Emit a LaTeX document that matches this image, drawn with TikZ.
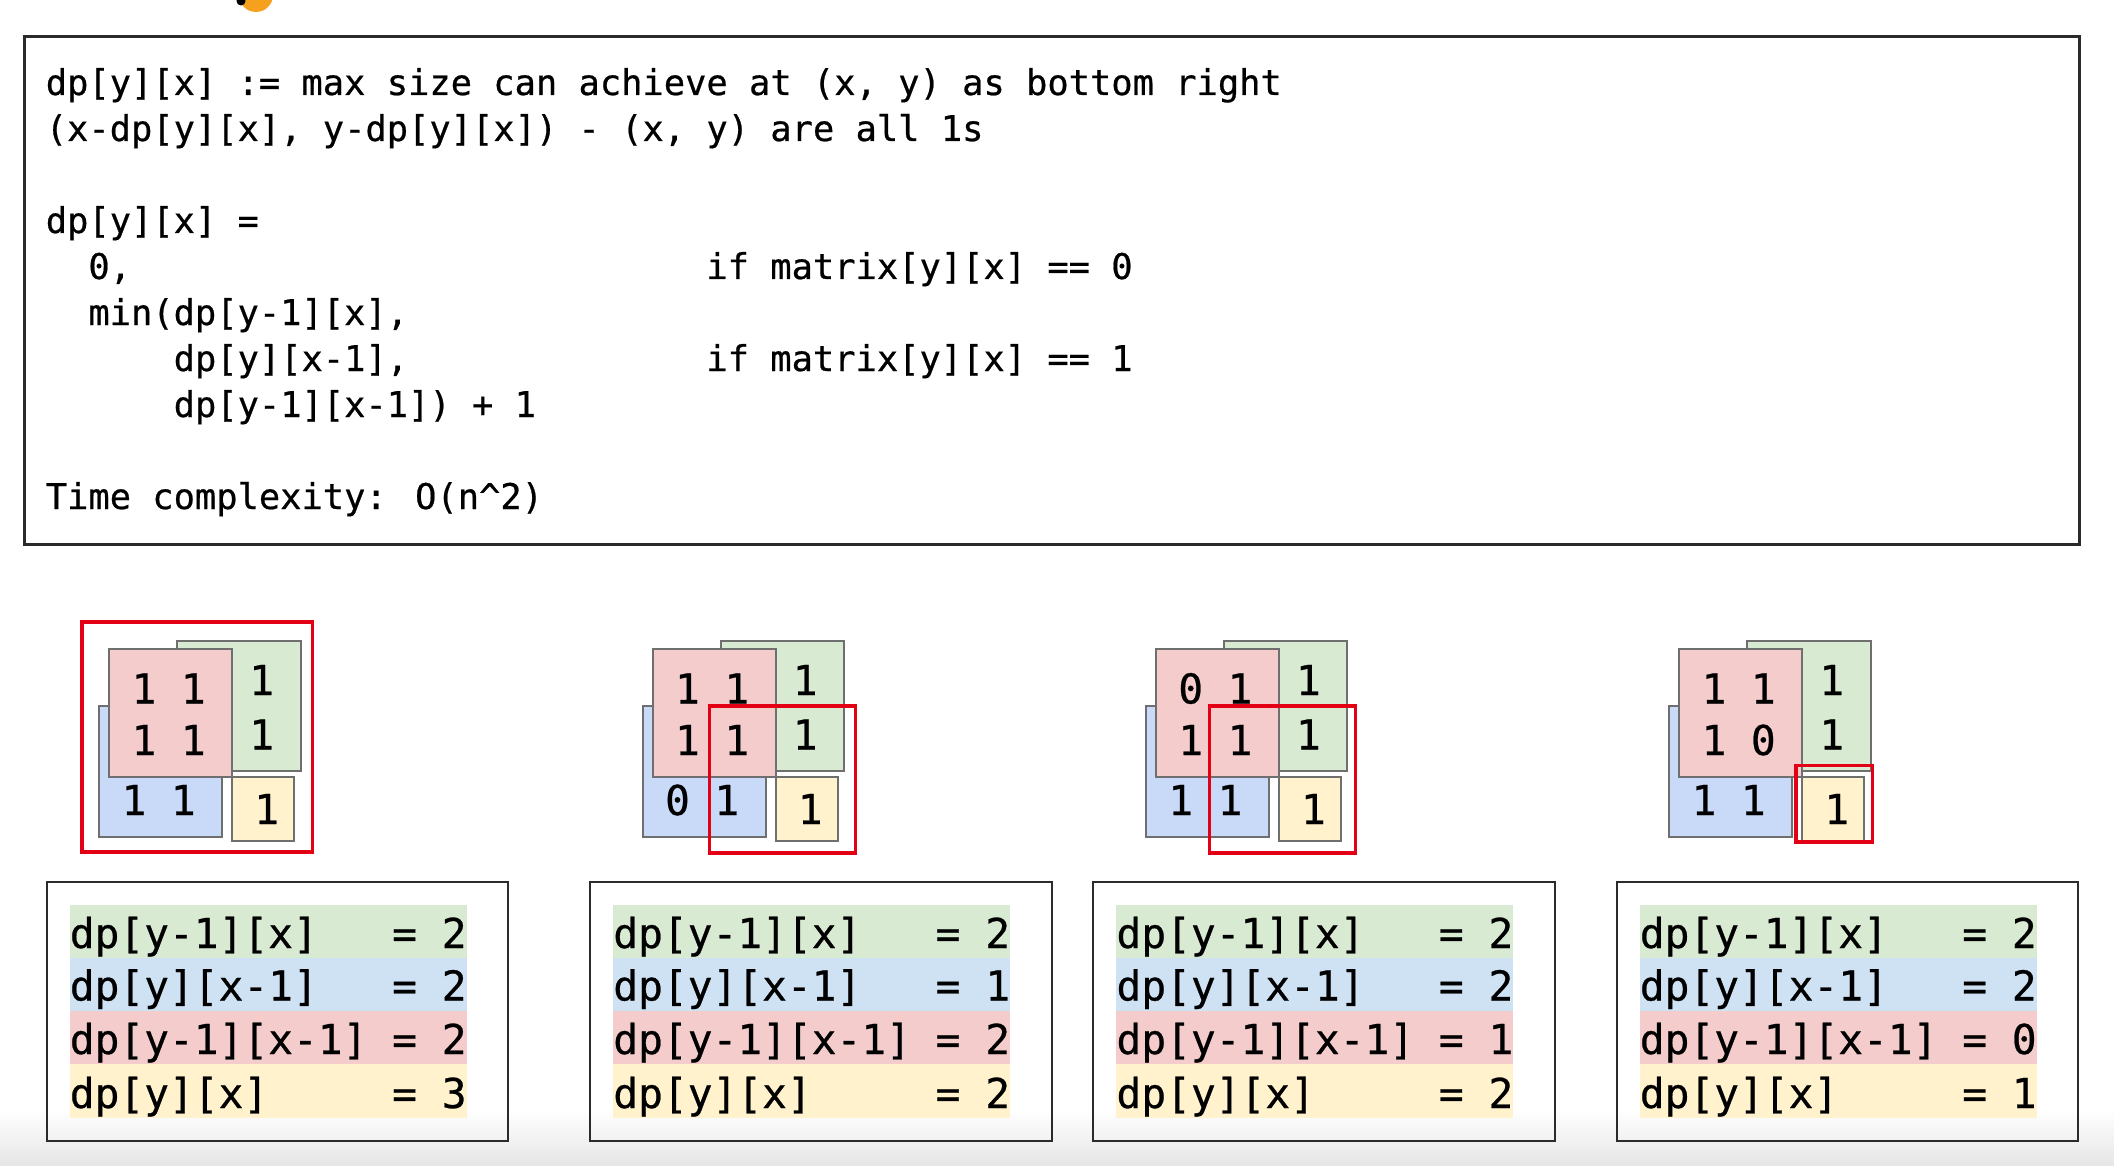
\documentclass[tikz,border=0pt]{standalone}
\usepackage{fontspec}
\newfontfamily\mono[FakeBold=0.6]{DejaVu Sans Mono}
\definecolor{gfill}{HTML}{D9EAD3}
\definecolor{bfill}{HTML}{C9DAF8}
\definecolor{tblue}{HTML}{CFE2F3}
\definecolor{pfill}{HTML}{F4CCCC}
\definecolor{yfill}{HTML}{FFF2CC}
\definecolor{rectgray}{HTML}{6F6F6F}
\definecolor{redc}{RGB}{228,0,20}
\definecolor{framec}{HTML}{2B2B2B}
\definecolor{logoorange}{HTML}{F6A11E}
\tikzset{
  cell/.style={draw=rectgray, line width=2pt},
  redbox/.style={draw=redc, line width=3.6pt},
  tabframe/.style={draw=framec, line width=2pt},
  dig/.style={font=\mono\fontsize{41.2}{48}\selectfont, inner sep=0pt, anchor=base},
  code/.style={font=\mono\fontsize{35.4}{42}\selectfont, inner sep=0pt, anchor=base west},
  tab/.style={font=\mono\fontsize{41.2}{48}\selectfont, inner sep=0pt, anchor=base west},
}
\newcommand\mydiag[8]{%
  \begin{scope}[xshift=#1pt]
    \draw[cell, fill=gfill] (177.3,641) rectangle (300.7,770.7);
    \draw[cell, fill=bfill] (99,706) rectangle (222,836.7);
    \draw[cell, fill=pfill] (109,648.7) rectangle (232,777);
    \draw[cell, fill=yfill] (232.3,776.7) rectangle (294,840.7);
    \node[dig] (pa#2) at (144,703.5) {#3};
    \node[dig] (pb#2) at (193.3,703.5) {#4};
    \node[dig] (pc#2) at (144,755) {#5};
    \node[dig] (pd#2) at (193.3,755) {#6};
    \node[dig] (ga#2) at (261.7,695) {1};
    \node[dig] (gb#2) at (261.7,749.5) {1};
    \node[dig] (ba#2) at (134,815) {#7};
    \node[dig] (bb#2) at (183.3,815) {#8};
    \node[dig] (ya#2) at (266.7,824) {1};
  \end{scope}}
\newcommand\mytab[6]{%
  \begin{scope}[xshift=#1pt]
    \fill[gfill] (69.6,905) rectangle (466.5,958.2);
    \fill[tblue] (69.6,958.2) rectangle (466.5,1010.9);
    \fill[pfill] (69.6,1010.9) rectangle (466.5,1063.9);
    \fill[yfill] (69.6,1063.9) rectangle (466.5,1118.1);
    \draw[tabframe] (46.7,882) rectangle (508.4,1140.5);
    \node[tab] (la#2) at (69.6,948) {dp[y-1][x]};
    \node[tab] (va#2) at (392,948) {= #3};
    \node[tab] (lb#2) at (69.6,1000.5) {dp[y][x-1]};
    \node[tab] (vb#2) at (392,1000.5) {= #4};
    \node[tab] (lc#2) at (69.6,1054) {dp[y-1][x-1]};
    \node[tab] (vc#2) at (392,1054) {= #5};
    \node[tab] (ld#2) at (69.6,1108) {dp[y][x]};
    \node[tab] (vd#2) at (392,1108) {= #6};
  \end{scope}}
\begin{document}
\begin{tikzpicture}[x=1pt,y=-1pt]
\useasboundingbox (0,0) rectangle (2114,1166);
\fill[white] (0,0) rectangle (2114,1166);
\shade[top color=white, bottom color=black!10] (0,1110) rectangle (2114,1166);
% partial logo at the top edge
\begin{scope}
  \clip (0,0) rectangle (2114,1166);
  \fill[logoorange] (256,-5) circle (17);
  \fill[black] (241,1) circle (4.5);
\end{scope}
% top box
\draw[draw=framec, line width=3pt] (24.6,36.7) rectangle (2079,544.6);
\node[code] (t1) at (45.6,95) {dp[y][x] := max size can achieve at (x, y) as bottom right};
\node[code] (t2) at (45.6,141) {(x-dp[y][x], y-dp[y][x]) - (x, y) are all 1s};
\node[code] (t3) at (45.6,233) {dp[y][x] =};
\node[code] (t4) at (88.2,279) {0,};
\node[code] (t4c) at (706.2,279) {if matrix[y][x] == 0};
\node[code] (t5) at (88.2,325) {min(dp[y-1][x],};
\node[code] (t6) at (173.5,371) {dp[y][x-1],};
\node[code] (t6c) at (706.2,371) {if matrix[y][x] == 1};
\node[code] (t7) at (173.5,417) {dp[y-1][x-1]) + 1};
\node[code] (t8) at (45.6,509) {Time complexity: O(n\textasciicircum 2)};
% diagrams
\mydiag{0}{a}{1}{1}{1}{1}{1}{1}
\mydiag{543.5}{b}{1}{1}{1}{1}{0}{1}
\mydiag{1046.7}{c}{0}{1}{1}{1}{1}{1}
\mydiag{1570}{d}{1}{1}{1}{0}{1}{1}
% red highlight boxes
\draw[redbox] (82,622) rectangle (312.3,851.7);
\draw[redbox] (709.3,706) rectangle (855.3,852.8);
\draw[redbox] (1209.5,706) rectangle (1355.5,852.8);
\draw[redbox] (1795.7,765.3) rectangle (1872.3,841.7);
% tables
\mytab{0}{a}{2}{2}{2}{3}
\mytab{543.5}{b}{2}{1}{2}{2}
\mytab{1046.7}{c}{2}{2}{1}{2}
\mytab{1570}{d}{2}{2}{0}{1}
\end{tikzpicture}
\end{document}
